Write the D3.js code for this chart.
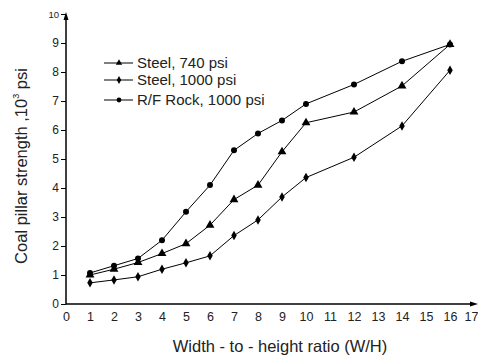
<!DOCTYPE html>
<html>
<head>
<meta charset="utf-8">
<script src="https://cdn.jsdelivr.net/npm/d3@7"></script>
<style>
  body { margin: 0; background: #fff; }
  svg { display: block; font-family: "Liberation Sans", Arial, sans-serif; }
</style>
</head>
<body>
<div id="chart"></div>
<script>
// W/H ratios
const ratios = [1, 2, 3, 4, 5, 6, 7, 8, 9, 10, 12, 14, 16];
// strengths, 10^3 psi
const steel740 = [1.0, 1.2, 1.43, 1.74, 2.08, 2.72, 3.6, 4.1, 5.25, 6.25, 6.62, 7.52, 8.95];
const steel1000 = [0.73, 0.83, 0.94, 1.2, 1.42, 1.66, 2.36, 2.9, 3.69, 4.36, 5.06, 6.14, 8.06];
const rfRock = [1.07, 1.32, 1.57, 2.2, 3.18, 4.1, 5.3, 5.88, 6.33, 6.9, 7.57, 8.37, 8.95];
const xTicks = d3.range(0, 18);
const yTicks = d3.range(0, 11);

const width = 478, height = 358;
const svg = d3.select("#chart").append("svg")
    .attr("width", width)
    .attr("height", height);

const x = d3.scaleLinear().domain([0, 17]).range([66, 474]);
const y = d3.scaleLinear().domain([0, 10]).range([304, 14]);

// axes
const yAxis = svg.append("g")
    .attr("transform", `translate(${x(0)},0)`)
    .call(d3.axisLeft(y).tickValues(yTicks).tickSize(5).tickSizeOuter(0).tickPadding(2));
yAxis.select(".domain").remove();
yAxis.selectAll("text").attr("font-size", 12).attr("fill", "#222");
yAxis.selectAll("text").filter(d => d === 10).attr("font-size", 9.5);

const xAxis = svg.append("g")
    .attr("transform", `translate(0,${y(0)})`)
    .call(d3.axisBottom(x).tickValues(xTicks).tickSize(0).tickPadding(8));
xAxis.select(".domain").remove();
xAxis.selectAll("text").attr("font-size", 12.5).attr("fill", "#222");
// last label sits at the right edge
xAxis.selectAll("text").filter(d => d === 17).attr("dx", -3);

// axis lines with arrowheads
svg.append("line")
    .attr("x1", x(0)).attr("x2", x(0))
    .attr("y1", y(0)).attr("y2", y(10) + 2)
    .attr("stroke", "#000").attr("stroke-width", 1.5);
svg.append("path")
    .attr("d", `M${x(0) - 2.5},${y(10) + 6}L${x(0)},${y(10) - 2}L${x(0) + 2.5},${y(10) + 6}Z`)
    .attr("fill", "#000");
svg.append("line")
    .attr("x1", x(0)).attr("x2", width - 4)
    .attr("y1", y(0)).attr("y2", y(0))
    .attr("stroke", "#000").attr("stroke-width", 1.5);
svg.append("path")
    .attr("d", `M${width - 8},${y(0) - 2.5}L${width},${y(0)}L${width - 8},${y(0) + 2.5}Z`)
    .attr("fill", "#000");

// axis titles
svg.append("text")
    .attr("x", 280).attr("y", 352)
    .attr("text-anchor", "middle")
    .attr("font-size", 16.5)
    .attr("fill", "#222")
    .text("Width - to - height ratio (W/H)");

const yTitle = svg.append("text")
    .attr("transform", "translate(27,166) rotate(-90)")
    .attr("text-anchor", "middle")
    .attr("font-size", 16.5)
    .attr("fill", "#222");
yTitle.append("tspan").text("Coal pillar strength ,10");
yTitle.append("tspan").attr("font-size", 9).attr("dy", -8).text("3");
yTitle.append("tspan").attr("dy", 8).text(" psi");

// series
const series = [
    { name: "Steel, 740 psi", values: steel740, symbol: d3.symbolTriangle, size: 34 },
    { name: "Steel, 1000 psi", values: steel1000, symbol: d3.symbolDiamond, size: 26 },
    { name: "R/F Rock, 1000 psi", values: rfRock, symbol: d3.symbolCircle, size: 28 }
];

const line = d3.line()
    .x(d => x(d[0]))
    .y(d => y(d[1]));

series.forEach(s => {
    const pts = ratios.map((r, i) => [r, s.values[i]]);
    svg.append("path")
        .datum(pts)
        .attr("d", line)
        .attr("fill", "none")
        .attr("stroke", "#000")
        .attr("stroke-width", 1);
    svg.selectAll(null)
        .data(pts)
        .enter().append("path")
        .attr("transform", d => `translate(${x(d[0])},${y(d[1])})`)
        .attr("d", d3.symbol().type(s.symbol).size(s.size))
        .attr("fill", "#000");
});

// legend
const legendY = [63, 80, 100];
const legend = svg.append("g");
series.forEach((s, i) => {
    const g = legend.append("g").attr("transform", `translate(104,${legendY[i]})`);
    g.append("line")
        .attr("x1", 0).attr("x2", 29)
        .attr("stroke", "#000").attr("stroke-width", 1);
    g.append("path")
        .attr("transform", "translate(15,0)")
        .attr("d", d3.symbol().type(s.symbol).size(18))
        .attr("fill", "#000");
    g.append("text")
        .attr("x", 33).attr("y", 5)
        .attr("font-size", 15)
        .attr("fill", "#222")
        .text(s.name);
});
</script>
</body>
</html>
